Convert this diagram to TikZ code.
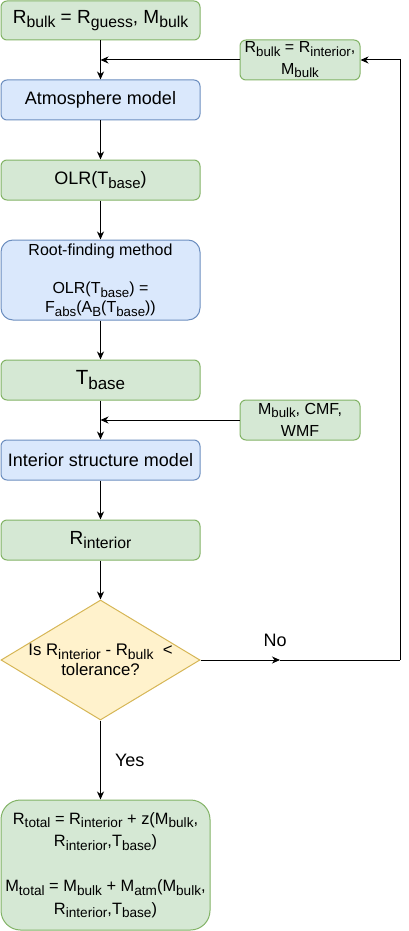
\documentclass[tikz,border=0pt]{standalone}
\usepackage{fontspec}
\usepackage{graphicx}
\setmainfont{Liberation Sans}
\usetikzlibrary{arrows.meta,shapes.geometric}
\definecolor{gfill}{HTML}{D5E8D4}
\definecolor{gline}{HTML}{82B366}
\definecolor{bfill}{HTML}{DAE8FC}
\definecolor{bline}{HTML}{6C8EBF}
\definecolor{yfill}{HTML}{FFF2CC}
\definecolor{yline}{HTML}{D6B656}
\newcommand\sbs[1]{\raisebox{-0.22em}{\scalebox{0.83}{#1}}}
\newcommand\fs[2]{\fontsize{#1}{#2}\selectfont}
\tikzset{
  basebox/.style={draw, rounded corners=6pt, line width=1pt, align=center, inner sep=0pt, minimum width=199pt, minimum height=40pt},
  gbox/.style={basebox, fill=gfill, draw=gline},
  bbox/.style={basebox, fill=bfill, draw=bline},
  arr/.style={-{Stealth[length=8pt,width=7pt,inset=2.5pt]}, line width=1pt},
  plain/.style={line width=1pt},
  lbl/.style={inner sep=0pt, font=\fs{18}{21}}
}
\begin{document}
\begin{tikzpicture}[x=1pt,y=-1pt]
\useasboundingbox (0,0) rectangle (409,931);
\node[gbox, minimum height=39pt, font=\fs{19}{22}] (top) at (100.5,20.5) {R\sbs{bulk} = R\sbs{guess}, M\sbs{bulk}};
\node[bbox, font=\fs{18}{21}] (atm) at (100.5,100) {Atmosphere model};
\node[gbox, font=\fs{18}{21}] (olr) at (100.5,180) {OLR(T\sbs{base})};
\node[bbox, rounded corners=12pt, minimum height=80pt, font=\fs{16}{19.3}] (root) at (100.5,280) {Root-finding method\\\mbox{}\\OLR(T\sbs{base}) =\\F\sbs{abs}(A\sbs{B}(T\sbs{base}))};
\node[gbox, font=\fs{20.5}{23}] (tb) at (100.5,380) {T\sbs{base}};
\node[bbox, font=\fs{18}{21}] (int) at (100.5,460) {Interior structure model};
\node[gbox, font=\fs{19}{22}] (rint) at (100.5,540) {R\sbs{interior}};
\node[draw=yline, fill=yfill, line width=1pt, diamond, aspect=1.658, minimum width=199pt, minimum height=120pt, inner sep=0pt] (dec) at (100.5,660) {};
\node[inner sep=0pt, align=center, font=\fs{16.8}{20}] (dect) at (dec.center) {Is R\sbs{interior} - R\sbs{bulk}~ <\\tolerance?};
\node[gbox, rounded corners=19.5pt, minimum width=209pt, minimum height=130pt, font=\fs{16.4}{22.5}] (tot) at (105.5,865) {R\sbs{total} = R\sbs{interior} + z(M\sbs{bulk},\\R\sbs{interior},T\sbs{base})\\\mbox{}\\M\sbs{total} = M\sbs{bulk} + M\sbs{atm}(M\sbs{bulk},\\R\sbs{interior},T\sbs{base})};
\node[gbox, minimum width=120pt, font=\fs{16}{21.5}] (s1) at (300,60) {R\sbs{bulk} = R\sbs{interior},\\M\sbs{bulk}};
\node[gbox, minimum width=120pt, font=\fs{16}{22.5}] (s2) at (300,420) {M\sbs{bulk}, CMF,\\WMF};
\coordinate (lb) at (400,660);
\coordinate (lt) at (400,60);
\coordinate (nm) at (280,660);
\draw[arr] (top) -- (atm);
\draw[arr] (atm) -- (olr);
\draw[arr] (olr) -- (root);
\draw[arr] (root) -- (tb);
\draw[arr] (tb) -- (int);
\draw[arr] (int) -- (rint);
\draw[arr] (rint) -- (dec);
\draw[arr] (dec.south) -- node[lbl, right=14pt, pos=0.5] {Yes} (dec.south |- tot.north);
\draw[arr] (s1.west) -- (s1.west -| top.south);
\draw[arr] (s2.west) -- (s2.west -| top.south);
\draw[arr] (dec.east) -- node[lbl, above=13pt, pos=0.94] {No} (nm);
\draw[plain] (nm) -- (lb);
\draw[arr] (lb) -- (lt) -- (s1.east);
\end{tikzpicture}
\end{document}
